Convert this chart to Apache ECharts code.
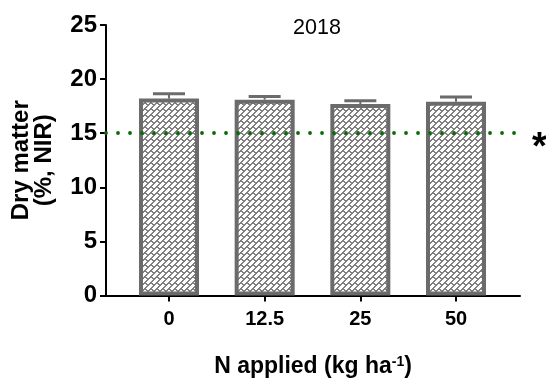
<!DOCTYPE html>
<html>
<head>
<meta charset="utf-8">
<script src="https://cdn.jsdelivr.net/npm/echarts@6/dist/echarts.min.js"></script>
<style>
  html, body { margin: 0; padding: 0; background: #fff; }
  #chart { width: 546px; height: 383px; }
</style>
</head>
<body>
<div id="chart"></div>
<script>
// Nitrogen rate treatments and dry matter results (2018)
const categories = ['0', '12.5', '25', '50'];
const dryMatter = [18.2, 18.1, 17.7, 17.9];
const dryMatterErr = [0.45, 0.3, 0.3, 0.45];
const thresholdValue = 15;
const yTicks = [0, 5, 10, 15, 20, 25];

const FONT = 'Liberation Sans, Arial, Helvetica, sans-serif';
const BAR_GRAY = '#6b6b6b';

// Diagonal brick hatch used as bar fill
function makeHatch() {
  const T = 12, P = 6, L = 12;
  const c = document.createElement('canvas');
  c.width = T; c.height = T;
  const ctx = c.getContext('2d');
  const img = ctx.createImageData(T, T);
  for (let y = 0; y < T; y++) {
    for (let x = 0; x < T; x++) {
      const s = x + y;
      const r = Math.floor(s / P);
      const onRow = (s % P) < 2;
      const d = (((x - y + r * 6) % L) + L) % L;
      const onSep = d < 2;
      const g = (onRow || onSep) ? 128 : 255;
      const i = (y * T + x) * 4;
      img.data[i] = g; img.data[i + 1] = g; img.data[i + 2] = g; img.data[i + 3] = 255;
    }
  }
  ctx.putImageData(img, 0, 0);
  return c;
}

const positions = categories.map((_, i) => i + 1);
const barData = positions.map((p, i) => [p, dryMatter[i]]);
const errData = positions.map((p, i) => [p, dryMatter[i], dryMatterErr[i]]);

const chart = echarts.init(document.getElementById('chart'), null, { renderer: 'canvas' });

chart.setOption({
  animation: false,
  backgroundColor: '#ffffff',
  title: {
    text: '2018',
    left: 312,
    top: 12,
    textAlign: 'center',
    textStyle: { fontFamily: FONT, fontSize: 21.5, fontWeight: 'normal', color: '#000' }
  },
  grid: { left: 106, right: 26, top: 25, bottom: 81.3, containLabel: false },
  xAxis: {
    type: 'value',
    min: 0.3415,
    max: 4.669,
    splitLine: { show: false },
    axisLine: { show: true, onZero: false, lineStyle: { color: '#000', width: 2 } },
    axisTick: { show: true, customValues: positions, length: 6, lineStyle: { color: '#000', width: 2 } },
    axisLabel: {
      customValues: positions,
      formatter: (v) => categories[Math.round(v) - 1],
      margin: 14,
      fontFamily: FONT, fontSize: 20, fontWeight: 'bold', color: '#000'
    },
    name: '{a|N applied (kg ha}{s|-1}{a|)}',
    nameLocation: 'middle',
    nameGap: 58,
    nameTextStyle: {
      rich: {
        a: { fontFamily: FONT, fontSize: 23, fontWeight: 'bold', color: '#000', lineHeight: 26 },
        s: { fontFamily: FONT, fontSize: 14, fontWeight: 'bold', color: '#000', lineHeight: 26, padding: [0, 0, 9, 0] }
      }
    }
  },
  yAxis: {
    type: 'value',
    min: yTicks[0],
    max: yTicks[yTicks.length - 1],
    interval: 5,
    splitLine: { show: false },
    axisLine: { show: true, lineStyle: { color: '#000', width: 2 } },
    axisTick: { show: true, length: 6, lineStyle: { color: '#000', width: 2 } },
    axisLabel: { margin: 9, fontFamily: FONT, fontSize: 24, fontWeight: 'bold', color: '#000' },
    name: 'Dry matter\n(%, NIR)',
    nameLocation: 'middle',
    nameGap: 50,
    nameRotate: 90,
    nameTextStyle: { fontFamily: FONT, fontSize: 24, fontWeight: 'bold', color: '#000', lineHeight: 23 }
  },
  series: [
    {
      type: 'bar',
      data: barData,
      barWidth: 60,
      itemStyle: {
        color: { image: makeHatch(), repeat: 'repeat' },
        borderColor: BAR_GRAY,
        borderWidth: 4
      },
      markLine: {
        silent: true,
        symbol: 'none',
        data: [{ yAxis: thresholdValue }],
        lineStyle: { color: '#0a6a0a', width: 3.8, type: [0.001, 12], cap: 'round' },
        label: {
          show: true,
          position: 'end',
          formatter: '*',
          distance: 12,
          fontFamily: FONT, fontSize: 38, fontWeight: 'bold', color: '#000',
          offset: [0, 15]
        }
      },
      z: 2
    },
    {
      type: 'custom',
      data: errData,
      z: 3,
      renderItem: function (params, api) {
        const x = api.value(0), v = api.value(1), e = api.value(2);
        const base = api.coord([x, v]);
        const top = api.coord([x, v + e]);
        return {
          type: 'group',
          children: [
            { type: 'line', shape: { x1: base[0], y1: base[1], x2: top[0], y2: top[1] },
              style: { stroke: BAR_GRAY, lineWidth: 2 } },
            { type: 'line', shape: { x1: top[0] - 16, y1: top[1], x2: top[0] + 16, y2: top[1] },
              style: { stroke: BAR_GRAY, lineWidth: 3 } }
          ]
        };
      }
    }
  ]
});
</script>
</body>
</html>
